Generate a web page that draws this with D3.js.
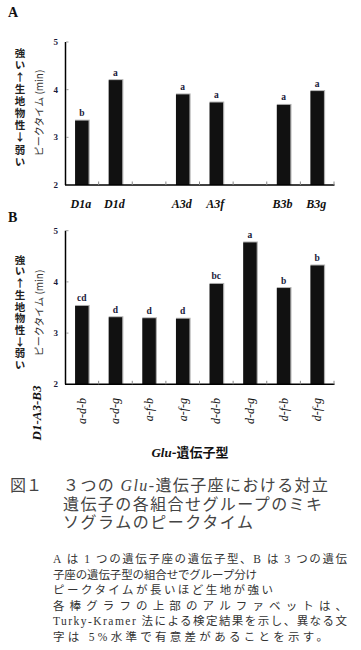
<!DOCTYPE html>
<html><head><meta charset="utf-8">
<script src="https://cdn.jsdelivr.net/npm/d3@7/dist/d3.min.js"></script>
<style>
html,body{margin:0;padding:0;background:#fff;}
svg{display:block;}
</style></head>
<body>
<script>
// ---- data ----
const genotypesA = ["D1a","D1d",null,"A3d","A3f",null,"B3b","B3g"];
const valuesA    = [3.35, 4.20, null, 3.90, 3.73, null, 3.68, 3.97];
const lettersA   = ["b","a",null,"a","a",null,"a","a"];

const genotypesB = ["a-d-b","a-d-g","a-f-b","a-f-g","d-d-b","d-d-g","d-f-b","d-f-g"];
const valuesB    = [3.53, 3.31, 3.29, 3.28, 3.96, 4.77, 3.88, 4.32];
const lettersB   = ["cd","d","d","d","bc","a","b","b"];

const yTicks = [2,3,4,5];
const sideText = "強い↑生地物性↓弱い";
const yTitle = "ピークタイム (min)";

const W = 361, H = 650;
const svg = d3.select("body").append("svg").attr("width", W).attr("height", H);
const serif = "'Liberation Serif','Times New Roman',serif";

function panel(cfg){
  const g = svg.append("g");
  const x = d3.scaleBand().domain(d3.range(cfg.n)).range([65,334]).paddingInner(0.6).paddingOuter(0.3);
  const y = d3.scaleLinear().domain([2,5]).range([cfg.y0, cfg.y1]);
  // panel letter
  g.append("text").attr("x",8).attr("y",cfg.labelY).attr("font-family",serif)
    .attr("font-weight","bold").attr("font-size",14).attr("fill","#111").text(cfg.label);
  // side vertical text
  g.append("text").attr("x",20).attr("y",cfg.sideY)
    .attr("writing-mode","vertical-rl")
    .style("text-orientation","upright")
    .attr("font-family","'Noto Sans CJK JP',sans-serif")
    .attr("font-size",10.5).attr("font-weight","bold").attr("fill","#222")
    .attr("letter-spacing",cfg.sideStep-10.5).text(sideText);
  // y title
  g.append("text").attr("transform",`translate(43,${cfg.titleY}) rotate(-90)`)
    .attr("text-anchor","middle").attr("font-family","'Noto Sans CJK JP',sans-serif")
    .attr("font-size",10).attr("fill","#333").text(yTitle);
  // bars
  const data = cfg.values.map((v,i)=>({i,v,l:cfg.letters[i]})).filter(d=>d.v!=null);
  g.selectAll("rect.sh").data(data).enter().append("rect")
    .attr("x",d=>x(d.i)).attr("y",d=>y(d.v)-1)
    .attr("width",x.bandwidth()+1.2).attr("height",d=>y(2)-y(d.v)+1).attr("fill","#b0b0b0");
  g.selectAll("rect.bar").data(data).enter().append("rect")
    .attr("x",d=>x(d.i)).attr("y",d=>y(d.v))
    .attr("width",x.bandwidth()).attr("height",d=>y(2)-y(d.v)).attr("fill","#111");
  g.selectAll("text.lt").data(data).enter().append("text")
    .attr("x",d=>x(d.i)+x.bandwidth()/2).attr("y",d=>y(d.v)-4.5)
    .attr("text-anchor","middle").attr("font-family",serif).attr("font-weight","bold")
    .attr("font-size",9.5).attr("fill","#1a1a3a").text(d=>d.l);
  // y axis
  g.append("line").attr("x1",65.5).attr("x2",65.5).attr("y1",y(2)).attr("y2",y(5))
    .attr("stroke","#000").attr("stroke-width",1.5);
  yTicks.forEach(t=>{
    if(t>2) g.append("line").attr("x1",66).attr("x2",68.5).attr("y1",y(t)).attr("y2",y(t)).attr("stroke","#999");
    g.append("text").attr("x",58).attr("y",y(t)+3).attr("text-anchor","end")
      .attr("font-family",serif).attr("font-weight","bold").attr("font-size",9).attr("fill","#1a1a3a").text(t);
  });
  // x axis
  g.append("line").attr("x1",65).attr("x2",334.5).attr("y1",y(2)).attr("y2",y(2))
    .attr("stroke","#000").attr("stroke-width",1.5);
  const step = x.step();
  d3.range(1,cfg.n+1).forEach(k=>{
    const xx = 65 + step*k;
    g.append("line").attr("x1",xx).attr("x2",xx).attr("y1",y(2)).attr("y2",y(2)-3.5).attr("stroke","#888");
  });
  return {g,x,y};
}

const A = panel({n:8, y0:185, y1:42, values:valuesA, letters:lettersA, label:"A", labelY:17,
  sideY:47.5, sideStep:12.1, titleY:113});
genotypesA.forEach((t,i)=>{
  if(!t) return;
  A.g.append("text").attr("x",A.x(i)+A.x.bandwidth()/2-1).attr("y",208).attr("text-anchor","middle")
    .attr("font-family",serif).attr("font-style","italic").attr("font-weight","bold")
    .attr("font-size",12).attr("fill","#111").text(t);
});

const B = panel({n:8, y0:384.3, y1:230.7, values:valuesB, letters:lettersB, label:"B", labelY:222,
  sideY:254.5, sideStep:11.7, titleY:313});
genotypesB.forEach((t,i)=>{
  const cx = B.x(i)+B.x.bandwidth()/2;
  B.g.append("text").attr("transform",`translate(${cx+4},398) rotate(-90)`).attr("text-anchor","end")
    .attr("font-family",serif).attr("font-style","italic")
    .attr("font-size",12).attr("fill","#111").text(t);
});
B.g.append("text").attr("transform","translate(41,413) rotate(-90)").attr("text-anchor","middle")
  .attr("font-family",serif).attr("font-style","italic").attr("font-weight","bold")
  .attr("font-size",13).attr("fill","#111").text("D1-A3-B3");

// x title
const xt = svg.append("text").attr("x",190).attr("y",457).attr("text-anchor","middle")
  .attr("font-size",13).attr("font-weight","bold").attr("fill","#111");
xt.append("tspan").attr("font-family",serif).attr("font-style","italic").text("Glu");
xt.append("tspan").attr("font-family","'Noto Sans CJK JP',sans-serif").text("-遺伝子型");

// caption
const capFont = "'Liberation Serif','Noto Sans CJK JP',serif";
svg.append("text").attr("x",10).attr("y",491).attr("font-family",capFont).attr("font-size",16)
  .attr("fill","#444").text("図１");
const c1 = svg.append("text").attr("x",63).attr("y",491).attr("font-family",capFont).attr("font-size",16)
  .attr("fill","#444").attr("textLength",265).attr("lengthAdjust","spacing");
c1.append("tspan").text("３つの ");
c1.append("tspan").attr("font-style","italic").text("Glu");
c1.append("tspan").text("-遺伝子座における対立");
svg.append("text").attr("x",63).attr("y",509.5).attr("font-family",capFont).attr("font-size",16)
  .attr("fill","#444").attr("textLength",259).attr("lengthAdjust","spacing").text("遺伝子の各組合せグループのミキ");
svg.append("text").attr("x",63).attr("y",528).attr("font-family",capFont).attr("font-size",16)
  .attr("fill","#444").attr("textLength",190).attr("lengthAdjust","spacing").text("ソグラムのピークタイム");

// notes
const notes = [
  ["A は 1 つの遺伝子座の遺伝子型、B は 3 つの遺伝", 294],
  ["子座の遺伝子型の組合せでグループ分け", 204],
  ["ピークタイムが長いほど生地が強い", 220],
  ["各棒グラフの上部のアルファベットは、", 294],
  ["Turky-Kramer 法による検定結果を示し、異なる文", 294],
  ["字は 5%水準で有意差があることを示す。", 275]
];
notes.forEach((n,i)=>{
  svg.append("text").attr("x",53).attr("y",563 + i*15.6).attr("font-family",capFont)
    .attr("font-size",11.5).attr("fill","#333").attr("textLength",n[1]).attr("lengthAdjust","spacing").text(n[0]);
});
</script>
</body></html>
